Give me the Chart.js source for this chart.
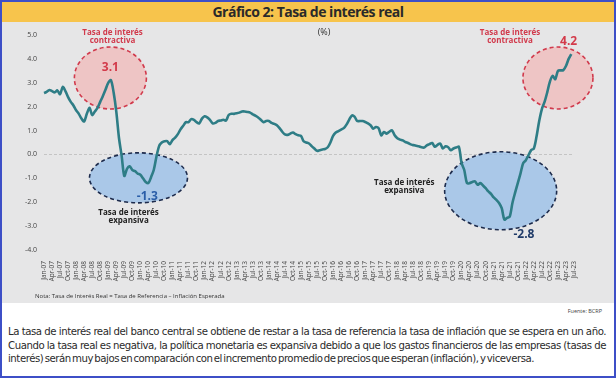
<!DOCTYPE html>
<html>
<head>
<meta charset="utf-8">
<script src="https://cdn.jsdelivr.net/npm/chart.js@4.4.0/dist/chart.umd.min.js"></script>
<style>
  html, body { margin: 0; padding: 0; }
  body { width: 616px; height: 378px; position: relative; background: #fff; font-family: "Open Sans", "Noto Sans", sans-serif; overflow: hidden; }
  #frame { position: absolute; left: 0; top: 0; width: 612px; height: 374px; border: 2px solid #3d4fc7; }
  #title { position: absolute; left: 0; top: 0; width: 612px; height: 20px; background: #f7c44c; text-align: center; font: bold 14px "Open Sans", sans-serif; line-height: 20px; color: #2a2a2a; letter-spacing: -0.5px; }
  #panel { position: absolute; left: 0; top: 20px; width: 612px; height: 281px; background: #e6e6e7; }
  #chart_div { position: absolute; left: 0; top: 0; width: 612px; height: 280px; }
  #note { position: absolute; left: 33px; top: 270px; font: 6px "Open Sans", sans-serif; color: #333; }
  #source { position: absolute; right: 12px; top: 305px; font: 5.5px "Open Sans", sans-serif; color: #444; }
  #text { position: absolute; left: 6px; top: 323px; width: 598px; font: 11.3px "DejaVu Sans Condensed", "Liberation Sans Narrow", sans-serif; letter-spacing: -0.45px; word-spacing: -1.5px; line-height: 13.5px; color: #2b2b2b; text-align: justify; text-align-last: left; }
</style>
</head>
<body>
<div id="frame">
  <div id="title">Gráfico 2: Tasa de interés real</div>
  <div id="panel">
    <div id="chart_div"><canvas id="myChart"></canvas></div>
    <div id="note">Nota: Tasa de Interés Real = Tasa de Referencia – Inflación Esperada</div>
  </div>
  <div id="source">Fuente: BCRP</div>
  <div id="text">La tasa de interés real del banco central se obtiene de restar a la tasa de referencia la tasa de inflación que se espera en un año. Cuando la tasa real es negativa, la política monetaria es expansiva debido a que los gastos financieros de las empresas (tasas de interés) serán muy bajos en comparación con el incremento promedio de precios que esperan (inflación), y viceversa.</div>
</div>
<script>
let years = ["07","08","09","10","11","12","13","14","15","16","17","18","19","20","21","22","23"];
let months = ["Jan","Feb","Mar","Apr","May","Jun","Jul","Aug","Sep","Oct","Nov","Dec"];
let yTicks = [5, 4, 3, 2, 1, 0, -1, -2, -3, -4];

// real interest rate, monthly, Jan-07 .. Jun-23
let realRate = [
  2.57, 2.62, 2.70, 2.65, 2.60, 2.68, 2.52, 2.83, 2.65, 2.40, 2.20, 2.05,
  1.85, 1.70, 1.50, 1.38, 1.70, 1.95, 1.65, 1.80, 1.95, 2.20, 2.45, 2.72,
  3.00, 3.11, 2.60, 1.80, 0.70, -0.05, -0.90, -0.60, -0.50, -0.65, -0.70, -0.80,
  -0.85, -1.00, -1.15, -1.20, -0.95, -0.65, -0.10, 0.35, 0.50, 0.55, 0.56, 0.43,
  0.60, 0.70, 0.85, 1.05, 1.20, 1.35, 1.35, 1.48, 1.45, 1.35, 1.30, 1.50,
  1.60, 1.55, 1.45, 1.30, 1.32, 1.40, 1.42, 1.45, 1.42, 1.65, 1.70, 1.70,
  1.72, 1.75, 1.80, 1.80, 1.78, 1.75, 1.68, 1.62, 1.55, 1.45, 1.35, 1.40,
  1.40, 1.32, 1.28, 1.22, 1.10, 0.95, 0.84, 0.82, 0.87, 0.92, 0.85, 0.80,
  0.78, 0.55, 0.50, 0.46, 0.35, 0.25, 0.15, 0.18, 0.21, 0.23, 0.30, 0.50,
  0.78, 0.92, 0.98, 1.04, 1.10, 1.25, 1.45, 1.63, 1.58, 1.40, 1.40, 1.40,
  1.36, 1.30, 1.22, 1.08, 1.15, 1.10, 0.80, 0.94, 0.87, 0.95, 1.01, 0.80,
  0.68, 0.62, 0.59, 0.52, 0.48, 0.42, 0.39, 0.36, 0.34, 0.30, 0.29, 0.38,
  0.43, 0.48, 0.32, 0.40, 0.46, 0.25, 0.34, 0.30, 0.18, 0.25, 0.29, 0.32,
  -0.36, -0.65, -1.20, -1.20, -1.15, -1.13, -1.27, -1.20, -1.30, -1.41, -1.55, -1.65,
  -1.80, -1.90, -2.03, -2.25, -2.73, -2.66, -2.60, -2.03, -1.60, -1.20, -0.80, -0.37,
  -0.24, -0.03, 0.18, 0.25, 0.75, 1.40, 1.90, 2.20, 2.60, 3.05, 3.29, 3.15,
  3.50, 3.52, 3.53, 3.70, 4.00, 4.20
];

// ellipses: [month index, value, rx px, ry px, fill, stroke]
let bubbles = [
  [24.8, 3.2, 36, 31, "rgba(244,170,170,0.55)", "#d13a4c"],
  [35.3, -0.98, 49, 25, "rgba(150,190,232,0.75)", "#1d2b4c"],
  [192, 3.2, 35, 31, "rgba(244,170,170,0.55)", "#d13a4c"],
  [170.6, -1.52, 56, 39, "rgba(150,190,232,0.75)", "#1d2b4c"]
];
// labels: [month index, value, text, color, size]
let notes = [
  [24.8, 3.62, "3.1", "#d33a4a", 12],
  [38.6, -1.77, "-1.3", "#2a5ea8", 12],
  [196, 4.72, "4.2", "#d33a4a", 12],
  [179.3, -3.35, "-2.8", "#1f3a68", 12],
  [25.6, 5.08, "Tasa de interés", "#d13a4c", 8],
  [25.6, 4.78, "contractiva", "#d13a4c", 8],
  [174.1, 5.08, "Tasa de interés", "#d13a4c", 8],
  [174.1, 4.78, "contractiva", "#d13a4c", 8],
  [31.6, -2.43, "Tasa de interés", "#222", 8],
  [31.6, -2.78, "expansiva", "#222", 8],
  [134.6, -1.2, "Tasa de interés", "#222", 8],
  [134.6, -1.53, "expansiva", "#222", 8]
];

let labels = [];
years.forEach(function (yy) {
  months.forEach(function (mm) {
    if (labels.length < 199) labels.push(mm + "-" + yy);
  });
});

const bubblePlugin = {
  id: "bubbles",
  beforeDatasetsDraw(chart) {
    const c = chart.ctx, xs = chart.scales.x, ys = chart.scales.y;
    c.save();
    bubbles.forEach(function (b) {
      c.beginPath();
      c.ellipse(xs.getPixelForValue(b[0]), ys.getPixelForValue(b[1]), b[2], b[3], 0, 0, Math.PI * 2);
      c.fillStyle = b[4];
      c.fill();
      c.setLineDash([4, 3]);
      c.lineWidth = 1.6;
      c.strokeStyle = b[5];
      c.stroke();
    });
    c.restore();
  },
  afterDatasetsDraw(chart) {
    const c = chart.ctx, xs = chart.scales.x, ys = chart.scales.y;
    c.save();
    c.textAlign = "center";
    c.textBaseline = "middle";
    notes.forEach(function (n) {
      c.font = "bold " + n[4] + "px 'Open Sans', sans-serif";
      c.fillStyle = n[3];
      c.fillText(n[2], xs.getPixelForValue(n[0]), ys.getPixelForValue(n[1]));
    });
    c.font = "9px 'Open Sans', sans-serif";
    c.fillStyle = "#333";
    c.fillText("(%)", 322, 10);
    c.restore();
  }
};

const ctx = document.getElementById("myChart");
new Chart(ctx, {
  type: "line",
  data: {
    labels: labels,
    datasets: [{
      data: realRate,
      borderColor: "#2e7d86",
      borderWidth: 2.6,
      pointRadius: 0,
      tension: 0.3,
      fill: false
    }]
  },
  options: {
    responsive: true,
    maintainAspectRatio: false,
    animation: false,
    layout: { padding: { top: 13, right: 40, left: 0, bottom: 0 } },
    plugins: { legend: { display: false }, tooltip: { enabled: false } },
    scales: {
      x: {
        offset: false,
        grid: { display: false },
        border: { display: false },
        afterFit: function (axis) { axis.height = 52; },
        ticks: {
          autoSkip: false,
          maxRotation: 90,
          minRotation: 90,
          padding: 3,
          color: "#444",
          font: { size: 6.5, family: "'Open Sans', sans-serif" },
          callback: function (v, i) { return i % 3 === 0 ? labels[i] : null; }
        }
      },
      y: {
        min: -4,
        max: 5,
        afterFit: function (axis) { axis.width = 42; },
        afterBuildTicks: function (axis) { axis.ticks = yTicks.map(function (v) { return { value: v }; }); },
        grid: {
          drawTicks: false,
          lineWidth: 1,
          color: function (c) { return c.tick && c.tick.value === 0 ? "#c4c4c4" : "transparent"; }
        },
        border: { display: false, dash: [3, 2] },
        ticks: {
          padding: 7,
          color: "#444",
          font: { size: 7, family: "'Open Sans', sans-serif" },
          callback: function (v) { return v.toFixed(1); }
        }
      }
    }
  },
  plugins: [bubblePlugin]
});
</script>
</body>
</html>
